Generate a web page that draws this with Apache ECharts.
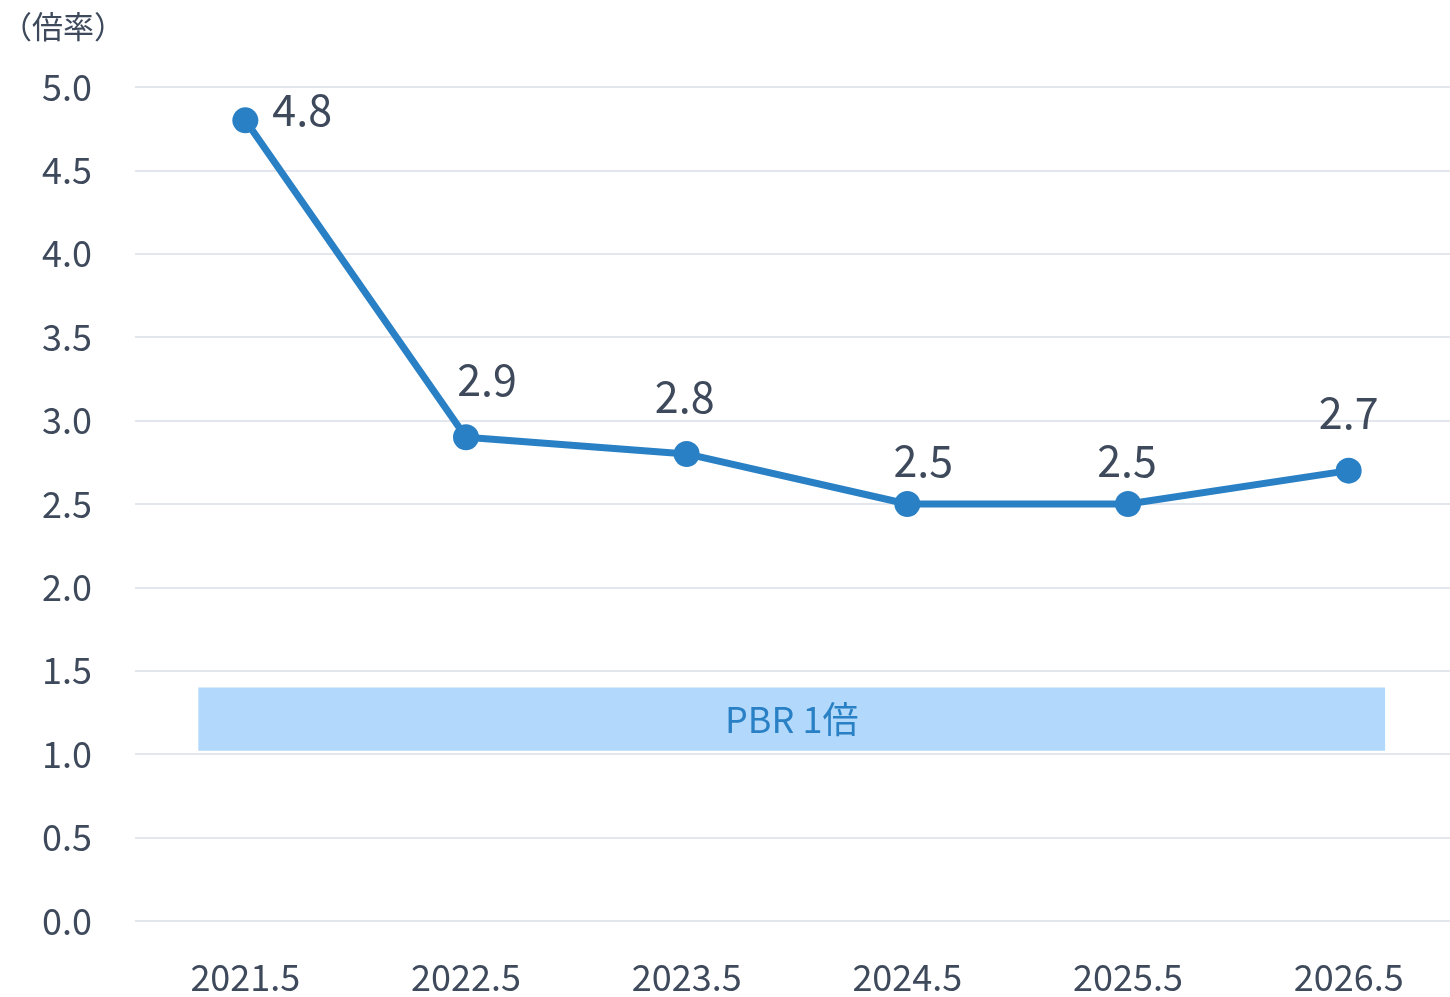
<!DOCTYPE html>
<html><head><meta charset="utf-8">
<script src="https://cdn.jsdelivr.net/npm/echarts@6/dist/echarts.min.js"></script>
<style>html,body{margin:0;padding:0;background:#fff}#c{width:1450px;height:997px}</style>
</head><body><div id="c"></div>
<script>
const categories = ['2021.5','2022.5','2023.5','2024.5','2025.5','2026.5'];
const pbrValues = [4.8, 2.9, 2.8, 2.5, 2.5, 2.7];
const yTicks = { min: 0, max: 5, interval: 0.5 };
const bandRange = { xFrom: 0.287, xTo: 5.665, yFrom: 1.02, yTo: 1.40, label: 'PBR 1倍' };
const unitLabel = '（倍率）';

const font = '"Noto Sans CJK JP", "Noto Sans", sans-serif';
const textColor = '#3e4a5b';
const lineColor = '#2a80c5';

const labelCfg = [
  { position: 'right', distance: 14, offset: [0, -11] },
  { position: 'top', distance: 23, offset: [21, 0] },
  { position: 'top', distance: 23, offset: [-2, 0] },
  { position: 'top', distance: 23, offset: [16, 14] },
  { position: 'top', distance: 23, offset: [-1, 14] },
  { position: 'top', distance: 23, offset: [0, 0] }
];

const chart = echarts.init(document.getElementById('c'));
chart.setOption({
  animation: false,
  title: { text: unitLabel, left: -4, top: 6, textStyle: { fontFamily: font, fontSize: 31, fontWeight: 'normal', color: textColor } },
  grid: { left: 135, width: 1324, top: 87, bottom: 76, containLabel: false, outerBoundsMode: 'none' },
  xAxis: [{
    type: 'category', data: categories, boundaryGap: true,
    axisLine: { show: false }, axisTick: { show: false },
    axisLabel: { fontFamily: font, fontSize: 36, color: textColor, margin: 38 }
  }, {
    type: 'value', min: 0, max: 6, show: false
  }],
  yAxis: {
    type: 'value', min: yTicks.min, max: yTicks.max, interval: yTicks.interval,
    axisLine: { show: false }, axisTick: { show: false },
    axisLabel: { fontFamily: font, fontSize: 36, color: textColor, margin: 43, formatter: v => v.toFixed(1) },
    splitLine: { lineStyle: { color: '#e3e6ec', width: 2 } }
  },
  series: [{
    type: 'line', xAxisIndex: 1, data: [], silent: true,
    markArea: {
      silent: true,
      itemStyle: { color: '#b2d8fc' },
      label: { show: true, position: 'inside', fontFamily: font, fontSize: 36, color: lineColor },
      data: [[{ name: bandRange.label, xAxis: bandRange.xFrom, yAxis: bandRange.yFrom }, { xAxis: bandRange.xTo, yAxis: bandRange.yTo }]]
    }
  }, {
    type: 'line', data: pbrValues.map((v, i) => ({ value: v, label: labelCfg[i] })),
    symbol: 'circle', symbolSize: 26,
    lineStyle: { color: lineColor, width: 7 },
    itemStyle: { color: lineColor },
    label: { show: true, fontFamily: font, fontSize: 43, color: textColor, formatter: p => p.value.toFixed(1) },
    z: 5
  }]
});
</script></body></html>
